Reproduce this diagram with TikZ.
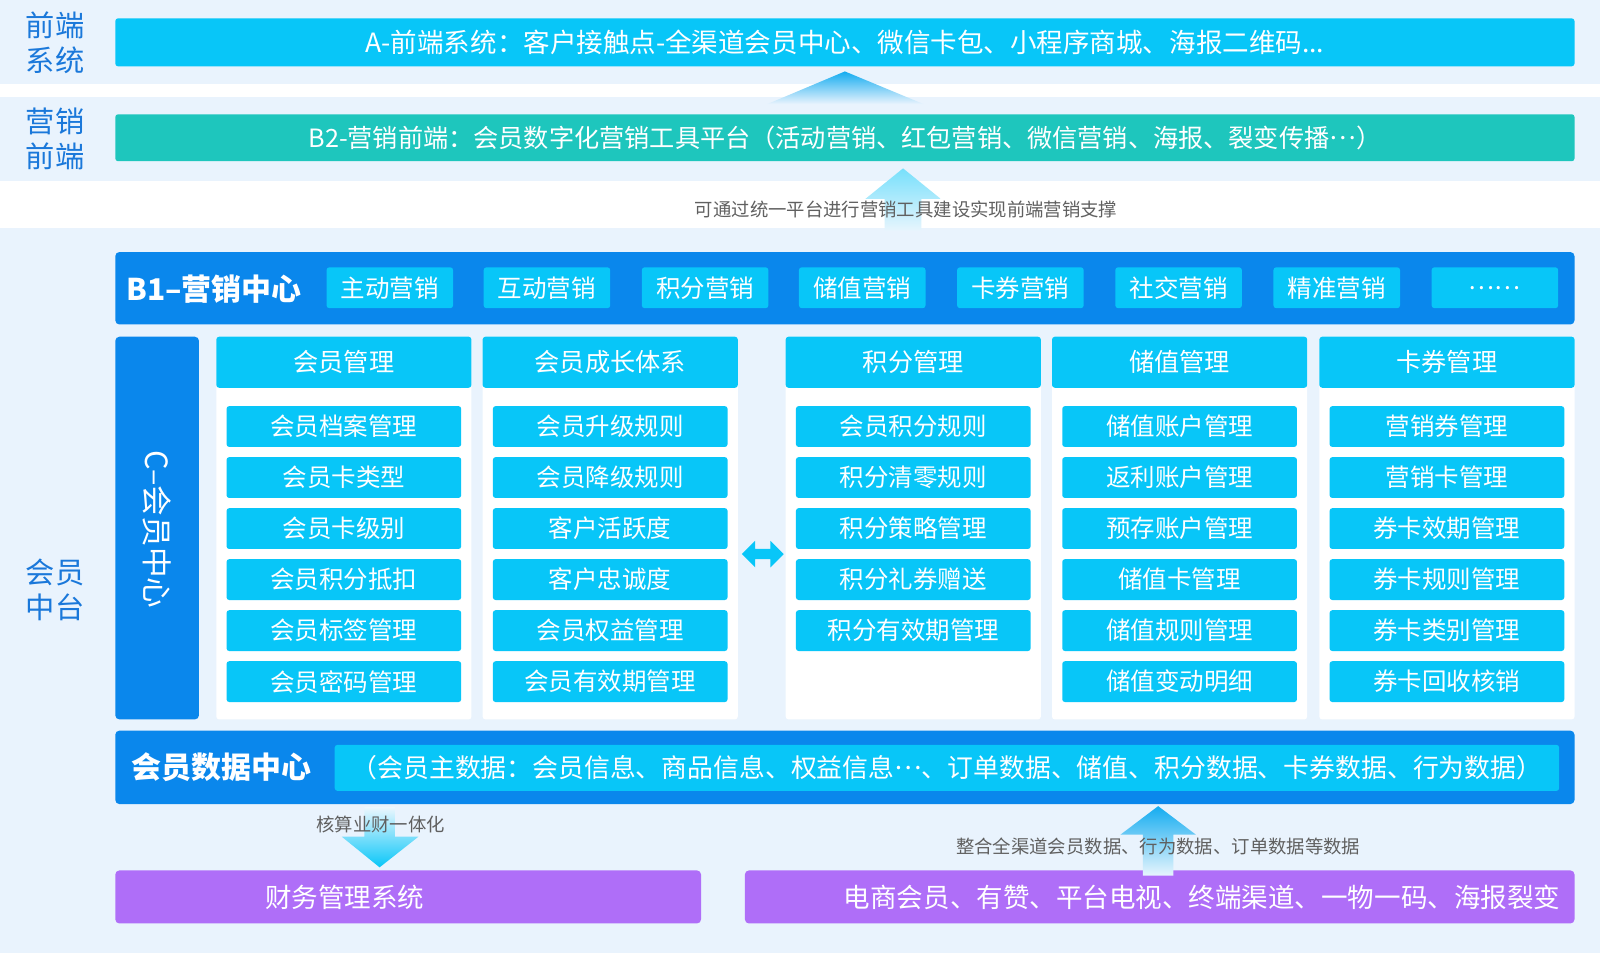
\documentclass[tikz,border=0pt]{standalone}
\usepackage{fontspec}
\setmainfont{Noto Sans CJK SC}
\usetikzlibrary{calc}
\definecolor{bandbg}{RGB}{233,243,253}
\definecolor{cyanbox}{RGB}{8,198,248}
\definecolor{tealbox}{RGB}{30,198,189}
\definecolor{bluebox}{RGB}{10,135,236}
\definecolor{purplebox}{RGB}{175,110,248}
\definecolor{labelblue}{RGB}{26,120,218}
\definecolor{graytext}{RGB}{96,96,96}
\definecolor{arrowcyan}{RGB}{20,172,240}
\definecolor{arrowpale}{RGB}{215,238,252}
\newcommand\fs[2][1.2]{\fontsize{#2pt}{#1\dimexpr #2pt\relax}\selectfont}
\newcommand\midell{\raisebox{0.3em}{⋯}}
\newcommand\bx[7]{\node[#6, minimum width={((#4)-(#2))*0.75pt}, minimum height={((#5)-(#3))*0.75pt}] (#1) at ({((#2)+(#4))/2},{((#3)+(#5))/2}) {#7};}
\begin{document}
\begin{tikzpicture}[x=0.75pt,y=-0.75pt,
  every node/.style={inner sep=0pt, outer sep=0pt},
  cbox/.style={fill=cyanbox, rounded corners=2pt, text=white},
  tbox/.style={fill=tealbox, rounded corners=2pt, text=white},
  bbox/.style={fill=bluebox, rounded corners=3pt, text=white},
  pbox/.style={fill=purplebox, rounded corners=3pt, text=white},
  panel/.style={fill=white, rounded corners=2pt},
  sidelabel/.style={text=labelblue, align=center, font=\fs[1.19]{21.5}},
  graylabel/.style={text=graytext, font=\fs{13.5}},
  title/.style={text=white, anchor=west, font=\bfseries\fs{22}}]
% background and bands
\fill[white] (0,0) rectangle (1568,934);
\useasboundingbox (0,0) rectangle (1568,934);
\fill[bandbg] (0,0) rectangle (1568,82);
\fill[bandbg] (0,95) rectangle (1568,177);
\fill[bandbg] (0,223) rectangle (1568,934);

% side labels
\node[sidelabel] (lfront) at (54,42) {前端\\系统};
\node[sidelabel] (lmkt) at (54,136) {营销\\前端};
\node[sidelabel] (lmid) at (54,578) {会员\\中台};

% A and B2
\bx{A}{113}{18}{1543}{65}{cbox,font=\fs{19.5}}{A-前端系统：客户接触点-全渠道会员中心、微信卡包、小程序商城、海报二维码...}
\bx{Btwo}{113}{112}{1543}{158}{tbox,font=\fs{18.5}}{B2-营销前端：会员数字化营销工具平台（活动营销、红包营销、微信营销、海报、裂变传播\midell）}

% triangle between B2 and A
\shade[top color=arrowcyan, bottom color=bandbg] (828,70) -- (905,102) -- (752,102) -- cycle;

% up arrow below B2
\shade[top color=cyanbox!55!white, bottom color=arrowpale!60!white]
  (885,165) -- (922,195) -- (903,195) -- (903,226) -- (867,226) -- (867,195) -- (848,195) -- cycle;
\node[graylabel] (lbl1) at (888,205) {可通过统一平台进行营销工具建设实现前端营销支撑};

% B1
\bx{Bone}{113}{247}{1543}{318}{bbox}{}
\node[title] (Bonet) at (124,283) {B1–营销中心};
\foreach \x/\t [count=\i] in {320/主动营销,474/互动营销,629/积分营销,783/储值营销,938/卡券营销,1093/社交营销,1248/精准营销,1403/⋯⋯}{
  \bx{s\i}{\x}{262}{\x+124}{302}{cbox,font=\fs{18}}{\t}
}

% C column
\bx{C}{113}{330}{195}{705}{bbox}{}
\node[rotate=-90, text=white, font=\fs{22.5}] (Ct) at (154,519) {C–会员中心};

% columns
\foreach \x/\hd/\lst [count=\c] in {
  212/会员管理/{会员档案管理,会员卡类型,会员卡级别,会员积分抵扣,会员标签管理,会员密码管理},
  473/会员成长体系/{会员升级规则,会员降级规则,客户活跃度,客户忠诚度,会员权益管理,会员有效期管理},
  770/积分管理/{会员积分规则,积分清零规则,积分策略管理,积分礼券赠送,积分有效期管理},
  1031/储值管理/{储值账户管理,返利账户管理,预存账户管理,储值卡管理,储值规则管理,储值变动明细},
  1293/卡券管理/{营销券管理,营销卡管理,券卡效期管理,券卡规则管理,券卡类别管理,券卡回收核销}}{
  \bx{col\c}{\x}{330}{\x+250}{705}{panel}{}
  \bx{hd\c}{\x}{330}{\x+250}{380}{cbox,font=\fs{18.5}}{\hd}
  \foreach \t [count=\r] in \lst {
    \bx{it\c-\r}{\x+10}{398+50*(\r-1)}{\x+240}{438+50*(\r-1)}{cbox,font=\fs{18}}{\t}
  }
}

% double arrow between column 2 and column 3
\fill[cyanbox] (727,543) -- (740,530) -- (740,538) -- (755,538) -- (755,530) -- (768,543)
  -- (755,556) -- (755,548) -- (740,548) -- (740,556) -- cycle;

% data center
\bx{D}{113}{716}{1543}{788}{bbox}{}
\node[title] (Dt) at (129,752) {会员数据中心};
\bx{Di}{328}{730}{1528}{775}{cbox,font=\fs{19}}{（会员主数据：会员信息、商品信息、权益信息\midell、订单数据、储值、积分数据、卡券数据、行为数据）}

% bottom boxes
\bx{F}{113}{853}{687}{905}{pbox}{}
\node[text=white, font=\fs{19.5}] (Ft) at (338,879) {财务管理系统};
\bx{E}{730}{853}{1543}{905}{pbox}{}
\node[text=white, font=\fs{19.5}] (Et) at (1178,879) {电商会员、有赞、平台电视、终端渠道、一物一码、海报裂变};

% down arrow data -> finance
\shade[top color=arrowpale!50!white, bottom color=cyanbox]
  (357,791) -- (387,791) -- (387,820) -- (410,820) -- (372,850) -- (335,820) -- (357,820) -- cycle;
\node[graylabel] (lbl2) at (373,808) {核算业财一体化};

% up arrow channels -> data
\shade[top color=arrowcyan, bottom color=arrowpale!60!white]
  (1135,790) -- (1172,818) -- (1150,818) -- (1150,858) -- (1120,858) -- (1120,818) -- (1098,818) -- cycle;
\node[graylabel] (lbl3) at (1135,830) {整合全渠道会员数据、行为数据、订单数据等数据};
\end{tikzpicture}
\end{document}
